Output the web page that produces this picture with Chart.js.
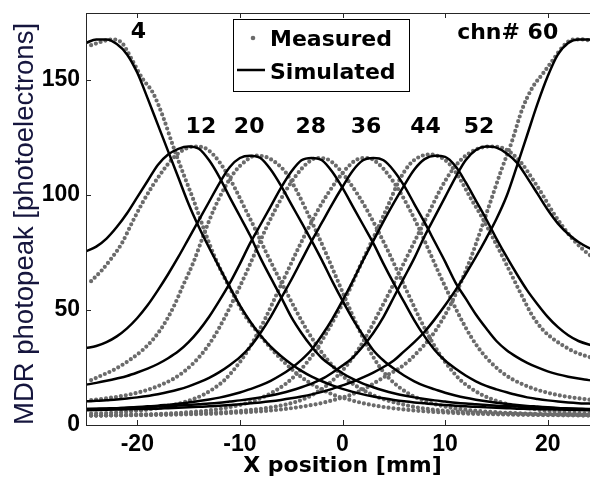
<!DOCTYPE html>
<html>
<head>
<meta charset="utf-8">
<script src="https://cdn.jsdelivr.net/npm/chart.js@4.4.1/dist/chart.umd.min.js"></script>
<style>
  html, body { margin: 0; padding: 0; background: #fff; overflow: hidden; }
  canvas { display: block; }
</style>
</head>
<body>
<canvas id="mdr" width="600" height="481"></canvas>
<script>
// ==============================
// data
// ==============================
const channels = [4, 12, 20, 28, 36, 44, 52, 60];
const channelText = ["4", "12", "20", "28", "36", "44", "52", "chn# 60"];
const labelX = [-19.9, -13.8, -9.1, -3.1, 2.3, 8.1, 13.3, 16.1];
const labelY = [170.7, 129.5, 129.5, 129.5, 129.5, 129.5, 129.5, 170.4];

const legendNames = ["Measured", "Simulated"];
const xTickValues = [-20, -10, 0, 10, 20];
const yTickValues = [0, 50, 100, 150];

// simulated response, 1 mm steps
const xSim = [-25, -24, -23, -22, -21, -20, -19, -18, -17, -16, -15, -14, -13, -12, -11, -10, -9, -8, -7, -6, -5, -4, -3, -2, -1, 0, 1, 2, 3, 4, 5, 6, 7, 8, 9, 10, 11, 12, 13, 14, 15, 16, 17, 18, 19, 20, 21, 22, 23, 24, 25];

const sim4 = [166, 167.5, 167.5, 165.5, 161, 153, 142, 130.5, 119, 107.5, 96, 86, 77, 68.5, 60, 52, 45, 39, 34, 30, 26.5, 23.5, 21, 19, 17.2, 15.7, 14.4, 13.3, 12.4, 11.6, 10.9, 10.3, 9.8, 9.4, 9, 8.7, 8.4, 8.1, 7.9, 7.7, 7.5, 7.3, 7.1, 7, 6.9, 6.8, 6.7, 6.6, 6.5, 6.4, 6.3];
const sim12 = [75.4, 77.5, 81, 86, 92, 99, 106, 113, 117.5, 120, 121, 120, 115, 107.7, 99, 90.7, 82.3, 72.6, 64, 55.7, 47, 40, 34, 29, 25.5, 22.5, 20, 18, 16.4, 15, 13.8, 12.8, 12, 11.3, 10.7, 10.2, 9.7, 9.3, 9, 8.7, 8.4, 8.2, 8, 7.8, 7.6, 7.5, 7.3, 7.2, 7.1, 7, 6.9];
const sim20 = [33.4, 34.3, 36, 38.5, 42, 46.5, 52, 58.5, 65.5, 73, 81, 89, 97, 105, 112, 116, 117, 116, 111, 104, 96, 88, 80, 71.5, 62.5, 54, 46, 39, 32.5, 28, 24.5, 21.5, 19, 17, 15.5, 14, 12.8, 11.8, 11, 10.3, 9.7, 9.2, 8.7, 8.3, 8, 7.7, 7.4, 7.2, 7, 6.8, 6.7];
const sim28 = [17.5, 18.3, 19.2, 20.2, 21.3, 22.8, 24.5, 26.5, 29, 32, 36, 41, 47, 54, 61.5, 70, 79, 87, 95, 103, 110, 115, 116, 115, 110, 103, 95, 87, 79, 70, 61.5, 53.5, 45.5, 38.5, 32.5, 28, 24.5, 21.5, 19, 17, 15.5, 14.2, 13, 12, 11.3, 10.7, 10.2, 9.8, 9.5, 9.3, 9.1];
const sim36 = [10.3, 10.5, 10.8, 11.1, 11.5, 12, 12.6, 13.4, 14.3, 15.4, 16.8, 18.5, 20.5, 23, 26, 29.5, 34, 40, 47, 55, 63, 71.5, 80, 88, 96, 103.5, 110.5, 115, 116, 115, 110.5, 104, 96, 88, 79.5, 71, 62, 55, 48, 42, 36.5, 32.5, 29.5, 27, 25, 23.3, 22, 21, 20.2, 19.5, 19];
const sim44 = [6.9, 7, 7.1, 7.3, 7.5, 7.8, 8.1, 8.4, 8.8, 9.2, 9.8, 10.4, 11.1, 11.9, 12.9, 14.1, 15.6, 17.2, 19.2, 21.7, 24.7, 28.3, 32.8, 39, 46, 54, 62.5, 71.5, 80, 88.5, 96.5, 104, 111, 115.5, 117, 116.5, 112.5, 105.5, 97.5, 89.5, 81, 73, 65.5, 58.5, 52.5, 47, 42.5, 39, 36.5, 35, 34];
const sim52 = [7, 7.1, 7.2, 7.3, 7.5, 7.6, 7.8, 8, 8.2, 8.5, 8.7, 9, 9.3, 9.7, 10.2, 10.7, 11.3, 12, 12.8, 13.8, 15, 16.4, 18, 20, 22.7, 25.8, 29.3, 34.2, 40, 47, 55.5, 64, 72.5, 82, 90.5, 99, 107.5, 115, 119.5, 121, 120.5, 118, 114, 107.5, 100.5, 93.5, 87.5, 83, 79.5, 77, 75.5];
const sim60 = [6.4, 6.5, 6.6, 6.7, 6.8, 6.9, 7, 7.1, 7.3, 7.5, 7.7, 7.9, 8.1, 8.4, 8.7, 9, 9.4, 9.8, 10.3, 10.9, 11.6, 12.4, 13.3, 14.4, 15.7, 17.2, 18.8, 20.7, 22.8, 25.2, 28, 32, 36, 40.5, 46, 52, 58.5, 65.5, 73, 81, 89.5, 99.5, 112.5, 126, 139.5, 151.5, 161, 166, 167.5, 167.5, 167];

// measured scan, 1 mm steps offset by half a mm
const xMeas = [-24.5, -23.5, -22.5, -21.5, -20.5, -19.5, -18.5, -17.5, -16.5, -15.5, -14.5, -13.5, -12.5, -11.5, -10.5, -9.5, -8.5, -7.5, -6.5, -5.5, -4.5, -3.5, -2.5, -1.5, -0.5, 0.5, 1.5, 2.5, 3.5, 4.5, 5.5, 6.5, 7.5, 8.5, 9.5, 10.5, 11.5, 12.5, 13.5, 14.5, 15.5, 16.5, 17.5, 18.5, 19.5, 20.5, 21.5, 22.5, 23.5, 24.5];

const meas4 = [165, 166.5, 167.5, 166, 158.5, 150.5, 144.5, 134, 121, 109, 97.5, 85, 73.5, 64, 55.5, 47.5, 41.5, 36, 31, 26.5, 22.5, 19.2, 16.5, 14.3, 12.5, 11.2, 10, 9, 8.2, 7.5, 7, 6.5, 6.1, 5.8, 5.5, 5.3, 5.1, 4.9, 4.8, 4.7, 4.6, 4.5, 4.4, 4.4, 4.3, 4.3, 4.2, 4.2, 4.1, 4.1];
const meas12 = [62.5, 67, 72.5, 79, 88, 96.5, 104, 110.5, 116, 119.5, 121, 120.5, 117, 111, 103, 94, 85, 75.5, 66.5, 58, 49.5, 41.5, 34.5, 28.5, 23.5, 19.5, 16.5, 14, 12, 10.5, 9.3, 8.3, 7.5, 6.9, 6.4, 6, 5.7, 5.4, 5.2, 5, 4.9, 4.8, 4.7, 4.6, 4.5, 4.4, 4.4, 4.3, 4.3, 4.2];
const meas20 = [19.5, 21.5, 23.5, 26, 29, 32.5, 37, 43, 51, 61, 71, 83, 94, 103, 110, 114.5, 117, 116.5, 114, 109.5, 102, 93, 83.5, 73.5, 63, 52.5, 42.5, 33.5, 26, 20.5, 16.5, 13.5, 11.3, 9.7, 8.5, 7.6, 6.9, 6.4, 6, 5.7, 5.4, 5.2, 5, 4.9, 4.8, 4.7, 4.6, 4.5, 4.4, 4.4];
const meas28 = [10.8, 11.3, 11.9, 12.6, 13.5, 14.6, 16, 17.8, 20, 23, 27, 32, 38.5, 46.5, 55.5, 65, 75, 85, 94, 102, 108.5, 113.5, 116, 115.5, 112, 106.5, 100, 92.5, 84, 75, 65.5, 56, 46.5, 38, 30.5, 24.5, 19.5, 16, 13.3, 11.3, 9.8, 8.6, 7.7, 7, 6.4, 6, 5.6, 5.3, 5.1, 5];
const meas36 = [5, 5.1, 5.3, 5.6, 6, 6.4, 7, 7.7, 8.6, 9.8, 11.3, 13.3, 16, 19.5, 24.5, 30.5, 38, 46.5, 56, 65.5, 75, 84, 92.5, 100, 106.5, 112, 115.5, 116, 113.5, 108.5, 102, 94, 85, 75, 65, 55.5, 46.5, 38.5, 32, 27, 23, 20, 17.8, 16, 14.6, 13.5, 12.6, 11.9, 11.3, 10.8];
const meas44 = [4.2, 4.2, 4.3, 4.4, 4.5, 4.6, 4.7, 4.9, 5.1, 5.4, 5.7, 6.1, 6.6, 7.3, 8.2, 9.3, 10.7, 12.6, 15, 18, 22, 27, 33, 40.5, 48.5, 57, 67, 76.5, 86, 96, 106, 113, 116.5, 117.5, 116.5, 113, 106.5, 98.5, 91, 82.7, 74, 65, 56, 47.5, 41.5, 37.5, 34.5, 32, 30.3, 29];
const meas52 = [4.1, 4.1, 4.2, 4.2, 4.3, 4.4, 4.5, 4.6, 4.7, 4.8, 5, 5.2, 5.4, 5.6, 5.9, 6.3, 6.8, 7.3, 8, 8.9, 10.1, 11.8, 14.2, 17.3, 21.3, 26.3, 32.5, 40, 48.5, 57, 66, 75, 84, 93, 102, 109.5, 115, 118.5, 120.5, 121, 120.5, 118, 113.5, 107, 100, 92.5, 86, 80.5, 76, 72.5];
const meas60 = [4.1, 4.1, 4.2, 4.2, 4.3, 4.3, 4.4, 4.4, 4.5, 4.6, 4.7, 4.8, 4.9, 5.1, 5.3, 5.5, 5.8, 6.1, 6.5, 7, 7.6, 8.3, 9.1, 10.1, 11.3, 12.6, 14.4, 16.6, 19.3, 22, 24.5, 28, 32.5, 37.5, 44, 52, 61.5, 72.5, 85, 98, 111, 123, 137, 146.5, 152.5, 158.5, 164.5, 167.5, 167.5, 166.5];

const simSeries = [sim4, sim12, sim20, sim28, sim36, sim44, sim52, sim60];
const measSeries = [meas4, meas12, meas20, meas28, meas36, meas44, meas52, meas60];

// ==============================
// styles
// ==============================
const MEAS_COLOR = "#6b6b6b";
const SIM_COLOR = "#000";
const AXIS_COLOR = "#262626";
const BOLD = "bold 22px 'DejaVu Sans'";
const TICK_FONT = { family: "Liberation Sans", size: 23, weight: "bold" };

const pairs = (xs, ys) => xs.map((x, i) => ({ x, y: ys[i] }));

const datasets = [];
channels.forEach((ch, i) => {
  datasets.push({
    label: legendNames[1],
    data: pairs(xSim, simSeries[i]),
    borderColor: SIM_COLOR,
    borderWidth: 2.5,
    pointRadius: 0,
    cubicInterpolationMode: "monotone",
    fill: false,
    order: 0,
  });
  datasets.push({
    label: legendNames[0],
    data: pairs(xMeas, measSeries[i]),
    borderColor: MEAS_COLOR,
    borderWidth: 4.2,
    borderDash: [0, 5],
    borderCapStyle: "round",
    pointRadius: 0,
    cubicInterpolationMode: "monotone",
    fill: false,
    order: 1,
  });
});

// scale boxes get fixed sizes and no label overhang padding
function fixBox(size) {
  return (s) => {
    if (s.isHorizontal()) s.height = size;
    else s.width = size;
    s.paddingTop = s.paddingBottom = s.paddingLeft = s.paddingRight = 0;
  };
}

// ==============================
// frame, inward ticks, legend, channel labels
// ==============================
const framePlugin = {
  id: "frame",

  afterDatasetsDraw(chart) {
    const ctx = chart.ctx;
    const { top, bottom, left, right } = chart.chartArea;
    const xs = chart.scales.x;
    const ys = chart.scales.y;

    ctx.save();

    // box
    ctx.strokeStyle = AXIS_COLOR;
    ctx.lineWidth = 1;
    ctx.strokeRect(left + 0.5, top + 0.5, right - left - 1, bottom - top);

    // ticks pointing in
    ctx.beginPath();
    xTickValues.forEach((v) => {
      const px = Math.round(xs.getPixelForValue(v)) + 0.5;
      ctx.moveTo(px, bottom);
      ctx.lineTo(px, bottom - 5);
      ctx.moveTo(px, top);
      ctx.lineTo(px, top + 5);
    });
    yTickValues.forEach((v) => {
      const py = Math.round(ys.getPixelForValue(v)) + 0.5;
      ctx.moveTo(left, py);
      ctx.lineTo(left + 5, py);
      ctx.moveTo(right, py);
      ctx.lineTo(right - 5, py);
    });
    ctx.stroke();

    // channel numbers
    ctx.fillStyle = "#000";
    ctx.font = BOLD;
    ctx.textAlign = "center";
    ctx.textBaseline = "middle";
    channelText.forEach((t, i) => {
      ctx.fillText(t, xs.getPixelForValue(labelX[i]), ys.getPixelForValue(labelY[i]));
    });

    // legend
    const lx = left + 147;
    const ly = top + 6;
    const lw = 176;
    const lh = 72;
    ctx.fillStyle = "#fff";
    ctx.fillRect(lx, ly, lw, lh);
    ctx.strokeStyle = "#000";
    ctx.lineWidth = 1;
    ctx.strokeRect(lx + 0.5, ly + 0.5, lw, lh);

    ctx.fillStyle = MEAS_COLOR;
    ctx.beginPath();
    ctx.arc(lx + 20, ly + 19, 2.3, 0, Math.PI * 2);
    ctx.fill();

    ctx.strokeStyle = SIM_COLOR;
    ctx.lineWidth = 2.5;
    ctx.beginPath();
    ctx.moveTo(lx + 4, ly + 51);
    ctx.lineTo(lx + 32, ly + 51);
    ctx.stroke();

    ctx.fillStyle = "#000";
    ctx.textAlign = "left";
    ctx.fillText(legendNames[0], lx + 37, ly + 21);
    ctx.fillText(legendNames[1], lx + 37, ly + 54);

    ctx.restore();
  },
};

// ==============================
// chart
// ==============================
new Chart(document.getElementById("mdr"), {
  type: "line",
  data: { datasets },
  options: {
    responsive: false,
    animation: false,
    events: [],
    layout: { padding: { top: 13, right: 1, left: 0, bottom: 0 } },
    plugins: {
      legend: { display: false },
      tooltip: { enabled: false },
    },
    scales: {
      x: {
        type: "linear",
        min: -25,
        max: 25,
        afterBuildTicks(s) {
          s.ticks = xTickValues.map((v) => ({ value: v }));
        },
        afterFit: fixBox(56),
        grid: { display: false, drawTicks: false },
        border: { display: true, color: AXIS_COLOR, width: 1 },
        ticks: { padding: 6, color: "#000", font: TICK_FONT },
        title: {
          display: true,
          text: "X position [mm]",
          color: "#000",
          font: { family: "DejaVu Sans", size: 22, weight: "bold" },
          padding: { top: 0, bottom: 2 },
        },
      },
      y: {
        type: "linear",
        min: 0,
        max: 179,
        afterBuildTicks(s) {
          s.ticks = yTickValues.map((v) => ({ value: v }));
        },
        afterFit: fixBox(86),
        grid: { display: false, drawTicks: false },
        border: { display: true, color: AXIS_COLOR, width: 1 },
        ticks: { padding: 6, color: "#000", font: TICK_FONT },
        title: {
          display: true,
          text: "MDR photopeak [photoelectrons]",
          color: "#15153d",
          align: "start",
          font: { family: "Liberation Sans", size: 27.5 },
          padding: { top: 9, bottom: 0 },
        },
      },
    },
  },
  plugins: [framePlugin],
});
</script>
</body>
</html>
